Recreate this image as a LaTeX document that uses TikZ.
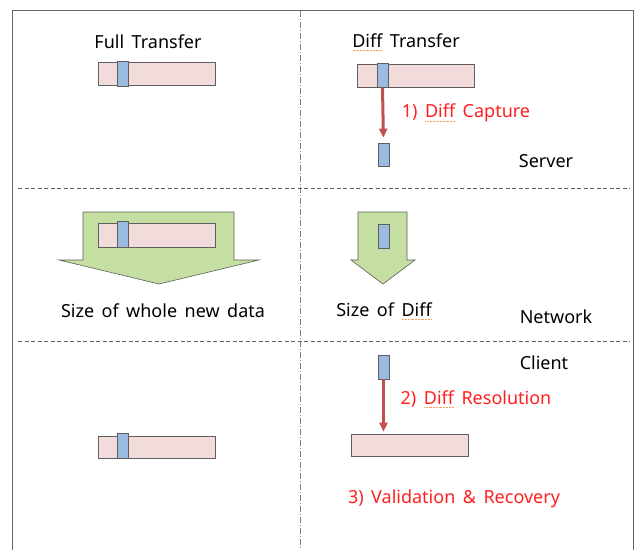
\documentclass[tikz,border=0pt]{standalone}
\usepackage{fontspec}
\setmainfont[WordSpace=1.6]{Noto Sans}
\usepackage{tikz}
\usetikzlibrary{arrows.meta}
\definecolor{barpink}{HTML}{F2DCDB}
\definecolor{blkblue}{HTML}{9BBBE0}
\definecolor{netgreen}{HTML}{C4DFA1}
\definecolor{edgegray}{HTML}{5E5E5E}
\definecolor{arrowred}{HTML}{C0504D}
\definecolor{textred}{HTML}{FF1F1F}
\definecolor{spellorange}{HTML}{F0A060}
\newlength{\spellwd}
\newcommand{\spellmark}[1]{\settowidth{\spellwd}{#1}\rlap{\raisebox{-3.5pt}{\hbox to \spellwd{\color{spellorange}\xleaders\hbox to 1.4pt{\hss\rule{0.7pt}{0.6pt}\hss}\hfill}}}#1}

\begin{document}
\begin{tikzpicture}[
		x=1pt, y=-1pt,
		data/.style={rectangle,draw=edgegray,fill=barpink,line width=0.8pt,
		inner sep=0pt,minimum width=117pt,minimum height=23pt},
		piece/.style={rectangle,draw=edgegray,fill=blkblue,line width=0.8pt,
		inner sep=0pt,minimum width=11pt,minimum height=24pt},
		bulk/.style={draw=edgegray,fill=netgreen,line width=0.6pt},
		capture/.style={>={Triangle[length=9pt,width=8pt]},draw=arrowred,line width=3pt,->},
		txt/.style={font=\fontsize{18}{20}\selectfont,inner sep=0pt},
		redtxt/.style={txt,text=textred},
		zone/.style={draw=edgegray,line width=0.7pt,dash pattern=on 4pt off 2.5pt},
		split/.style={draw=gray,line width=0.7pt,dash pattern=on 6pt off 2pt on 1pt off 2pt}
		]
		\useasboundingbox (0,0) rectangle (636,550);
		\draw[gray!80!black, line width=1pt] (12,550) -- (12,10) -- (633,10) -- (633,550);
		\draw[split] (300,11) -- (300,550);
		\draw[zone] (18,188) -- (630,188);
		\draw[zone] (18,341) -- (630,341);

		\node[txt] (fulltitle) at (148,42) {Full Transfer};
		\node[data] (fullbar) at (156.5,74) {};
		\node[piece, minimum height=25pt] (fullblk) at (122.5,73.5) {};

		\node[txt] (difftitle) at (406,42) {\spellmark{Diff} Transfer};
		\node[data] (diffbar) at (416,75.5) {};
		\node[piece] (diffblk) at (382.5,75.5) {};
		\node[piece, minimum height=23pt] (cappiece) at (383.5,154.5) {};
		\draw[capture, shorten >=5pt] (diffblk.south) -- (cappiece.north);
		\node[redtxt] (capture) at (466,113) {1) \spellmark{Diff} Capture};
		\node[txt] (server) at (546,161) {Server};

		\draw[bulk] (83,212) -- (234,212) -- (234,260) -- (259,260) -- (159,284)
			-- (59,260) -- (83,260) -- cycle;
		\node[data, minimum height=24pt] (netbar) at (156.5,235) {};
		\node[piece, minimum height=26pt] (netblk) at (123,234) {};
		\draw[bulk] (358,212) -- (407,212) -- (407,260) -- (415,260) -- (383,284)
			-- (351,260) -- (358,260) -- cycle;
		\node[piece] (netpiece) at (383.5,236) {};
		\node[txt] (wholesize) at (163,311) {Size of whole new data};
		\node[txt] (diffsize) at (384,311) {Size of \spellmark{Diff}};
		\node[txt] (network) at (556,317) {Network};

		\node[txt] (client) at (544,363) {Client};
		\node[piece] (clipiece) at (383.5,367) {};
		\node[data, minimum height=22pt] (clibar) at (409.5,445) {};
		\draw[capture, shorten >=2pt] (clipiece.south) -- (clibar.north -| clipiece.south);
		\node[redtxt] (resolve) at (476,399) {2) \spellmark{Diff} Resolution};
		\node[data, minimum height=22pt] (leftbar) at (156.5,447) {};
		\node[piece, minimum height=25pt] (leftblk) at (123,445.5) {};
		\node[redtxt] (recover) at (454,499) {3) Validation \& Recovery};
	\end{tikzpicture}
\end{document}
